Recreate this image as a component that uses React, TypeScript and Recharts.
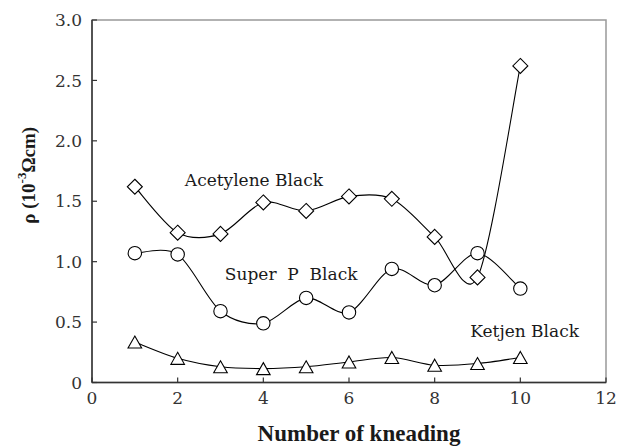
import React from 'react';
import { LineChart, Line, XAxis, YAxis, ReferenceArea, ReferenceDot, Label } from 'recharts';

const kneading = [1, 2, 3, 4, 5, 6, 7, 8, 9, 10];
const acetyleneBlack = [1.62, 1.24, 1.23, 1.49, 1.42, 1.54, 1.52, 1.205, 0.87, 2.62];
const superPBlack = [1.07, 1.06, 0.59, 0.49, 0.7, 0.58, 0.94, 0.805, 1.07, 0.777];
const ketjenBlack = [0.335, 0.2, 0.13, 0.115, 0.13, 0.17, 0.207, 0.143, 0.157, 0.207];
const xTicks = [0, 2, 4, 6, 8, 10, 12];
const yTicks = [0, 0.5, 1.0, 1.5, 2.0, 2.5, 3.0];

const data = kneading.map((k, i) => ({
  x: k,
  acetylene: acetyleneBlack[i],
  superP: superPBlack[i],
  ketjen: ketjenBlack[i],
}));

const FONT = 'DejaVu Serif, serif';
const BFONT = 'Liberation Serif, Times New Roman, serif';
const TEXT = '#1a1a1a';

// Excel-like smoothing (Catmull-Rom as cubic Bezier)
const smoothCurve: any = (context: any) => {
  let pts: [number, number][] = [];
  return {
    areaStart() {},
    areaEnd() {},
    lineStart() {
      pts = [];
    },
    point(x: number, y: number) {
      pts.push([+x, +y]);
    },
    lineEnd() {
      if (!pts.length) return;
      context.moveTo(pts[0][0], pts[0][1]);
      const k = 0.15;
      for (let i = 0; i < pts.length - 1; i++) {
        const p0 = pts[i - 1] || pts[i];
        const p1 = pts[i];
        const p2 = pts[i + 1];
        const p3 = pts[i + 2] || p2;
        context.bezierCurveTo(
          p1[0] + (p2[0] - p0[0]) * k,
          p1[1] + (p2[1] - p0[1]) * k,
          p2[0] - (p3[0] - p1[0]) * k,
          p2[1] - (p3[1] - p1[1]) * k,
          p2[0],
          p2[1]
        );
      }
    },
  };
};

const Diamond = (props: any) => {
  const { cx, cy } = props;
  if (cx == null || cy == null) return null;
  const s = 7.5;
  return (
    <path
      d={`M${cx},${cy - s}L${cx + s},${cy}L${cx},${cy + s}L${cx - s},${cy}Z`}
      fill="#fff"
      stroke="#000"
      strokeWidth={1.1}
    />
  );
};

const Circle = (props: any) => {
  const { cx, cy } = props;
  if (cx == null || cy == null) return null;
  return <circle cx={cx} cy={cy} r={6.7} fill="#fff" stroke="#000" strokeWidth={1.1} />;
};

const Triangle = (props: any) => {
  const { cx, cy } = props;
  if (cx == null || cy == null) return null;
  const w = 6.8;
  const h = 6;
  return (
    <path
      d={`M${cx},${cy - h}L${cx + w},${cy + h}L${cx - w},${cy + h}Z`}
      fill="#fff"
      stroke="#000"
      strokeWidth={1.1}
    />
  );
};

const YTick = (props: any) => {
  const { x, y, payload } = props;
  const v = payload.value;
  const label = v === 0 ? '0' : v.toFixed(1);
  const ax = x + 10;
  return (
    <g>
      <line x1={ax} x2={ax + 5} y1={y} y2={y} stroke="#333" strokeWidth={1.2} />
      <text x={x} y={y} dy="0.36em" textAnchor="end" style={{ fontFamily: FONT }} fontSize={17} fill="#333">
        {label}
      </text>
    </g>
  );
};

const XTick = (props: any) => {
  const { x, y, payload } = props;
  const ay = y - 9;
  return (
    <g>
      <line x1={x} x2={x} y1={ay} y2={ay - 5} stroke="#333" strokeWidth={1.2} />
      <text x={x} y={y} dy="0.74em" textAnchor="middle" style={{ fontFamily: FONT }} fontSize={17} fill="#333">
        {payload.value}
      </text>
    </g>
  );
};

const YTitle = (props: any) => {
  const { viewBox } = props;
  const cx = viewBox.x + 28;
  const cy = viewBox.y + viewBox.height / 2 - 26;
  return (
    <text
      x={cx}
      y={cy}
      transform={`rotate(-90, ${cx}, ${cy})`}
      textAnchor="middle"
      dominantBaseline="central"
      style={{ fontFamily: BFONT }}
      fontWeight="bold"
      fontSize={19}
      fill={TEXT}
    >
      ρ (10<tspan fontSize={13} dy={-7}>-3</tspan>
      <tspan dy={7}>Ωcm)</tspan>
    </text>
  );
};

const XTitle = (props: any) => {
  const { viewBox } = props;
  const cx = viewBox.x + viewBox.width / 2 + 10;
  return (
    <text
      x={cx}
      y={441}
      textAnchor="middle"
      style={{ fontFamily: BFONT }}
      fontWeight="bold"
      fontSize={23}
      fill={TEXT}
    >
      Number of kneading
    </text>
  );
};

const AnnLabel = (props: any) => {
  const { viewBox, value } = props;
  const cx = viewBox.x + (viewBox.width || 0) / 2;
  const cy = viewBox.y + (viewBox.height || 0) / 2;
  return (
    <text
      x={cx}
      y={cy}
      textAnchor="middle"
      dominantBaseline="central"
      style={{ fontFamily: FONT, whiteSpace: 'pre' }}
      fontSize={17}
      fill={TEXT}
    >
      {value}
    </text>
  );
};

export default function App() {
  return (
    <div style={{ position: 'absolute', left: 0, top: 0, background: '#fff' }}>
      <LineChart width={620} height={447} data={data} margin={{ top: 20, right: 14, left: 0, bottom: 0 }}>
        <ReferenceArea x1={0} x2={12} y1={0} y2={3} fill="none" stroke="#999" strokeWidth={1.5} ifOverflow="visible" />
        <XAxis
          type="number"
          dataKey="x"
          domain={[0, 12]}
          ticks={xTicks}
          height={64.5}
          tickSize={0}
          tickMargin={9}
          tick={<XTick />}
          axisLine={{ stroke: '#333', strokeWidth: 1.5 }}
          tickLine={false}
          interval={0}
        >
          <Label content={<XTitle />} />
        </XAxis>
        <YAxis
          type="number"
          domain={[0, 3]}
          ticks={yTicks}
          width={92}
          tickSize={0}
          tickMargin={10}
          tick={<YTick />}
          axisLine={{ stroke: '#333', strokeWidth: 1.5 }}
          tickLine={false}
          interval={0}
        >
          <Label content={<YTitle />} />
        </YAxis>
        <Line
          type={smoothCurve}
          dataKey="acetylene"
          stroke="#000"
          strokeWidth={1.1}
          dot={<Diamond />}
          isAnimationActive={false}
        />
        <Line
          type={smoothCurve}
          dataKey="superP"
          stroke="#000"
          strokeWidth={1.1}
          dot={<Circle />}
          isAnimationActive={false}
        />
        <Line
          type={smoothCurve}
          dataKey="ketjen"
          stroke="#000"
          strokeWidth={1.1}
          dot={<Triangle />}
          isAnimationActive={false}
        />
        <ReferenceDot x={3.78} y={1.68} r={0} fill="none" stroke="none" label={<AnnLabel value="Acetylene Black" />} />
        <ReferenceDot x={4.65} y={0.9} r={0} fill="none" stroke="none" label={<AnnLabel value="Super  P  Black" />} />
        <ReferenceDot x={10.1} y={0.43} r={0} fill="none" stroke="none" label={<AnnLabel value="Ketjen Black" />} />
      </LineChart>
    </div>
  );
}
